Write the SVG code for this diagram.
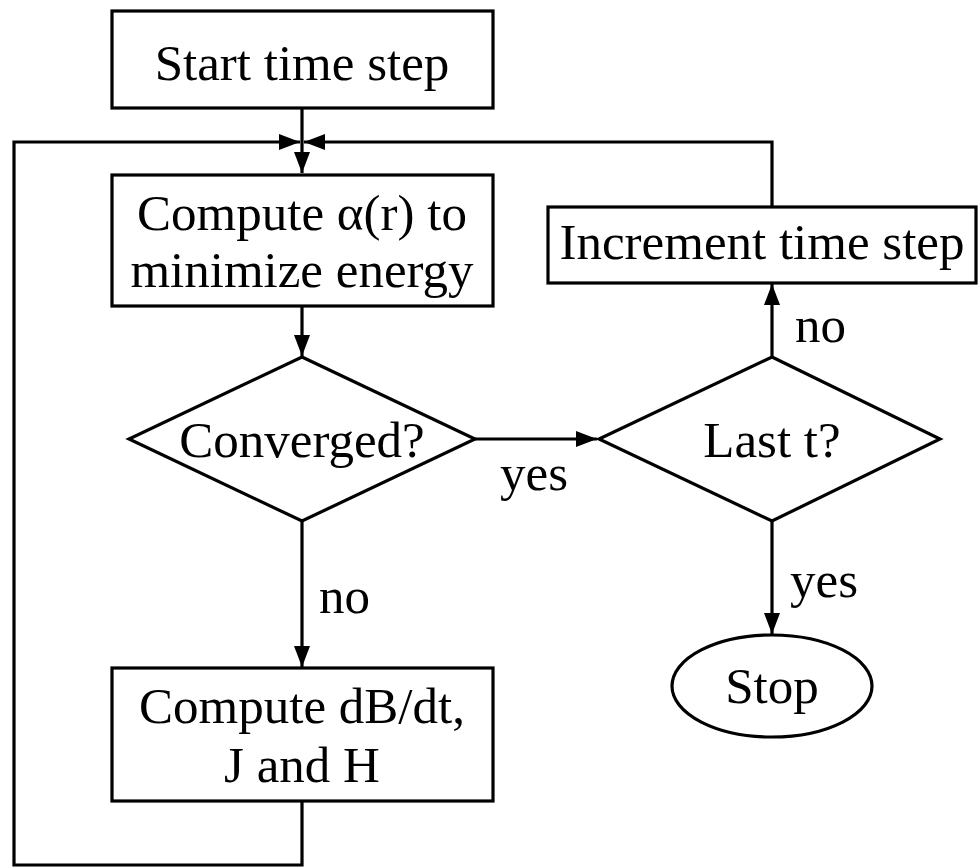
<svg xmlns="http://www.w3.org/2000/svg" width="979" height="867" viewBox="0 0 979 867">
  <style>
    .shape { fill: #fff; stroke: #000; stroke-width: 3.2; }
    .wire { fill: none; stroke: #000; stroke-width: 3.2; }
    text { font-family: "Liberation Serif", "Times New Roman", serif; font-size: 51px; fill: #000; }
    .mid { text-anchor: middle; }
  </style>
  <defs>
    <marker id="arrow" viewBox="0 0 21 16" refX="21" refY="8" markerWidth="21" markerHeight="16" markerUnits="userSpaceOnUse" orient="auto">
      <path d="M0,0 L21,8 L0,16 Z" fill="#000"/>
    </marker>
  </defs>

  <rect width="979" height="867" fill="#fff"/>

  <g id="connectors">
    <!-- start to loop junction -->
    <line class="wire" x1="302" y1="108" x2="302" y2="173" marker-end="url(#arrow)"/>
    <!-- loop back from bottom box -->
    <polyline class="wire" points="302,801 302,865 14,865 14,142 300,142" marker-end="url(#arrow)"/>
    <!-- return from increment -->
    <polyline class="wire" points="772,207 772,142 304,142" marker-end="url(#arrow)"/>
    <!-- compute alpha to converged -->
    <line class="wire" x1="302" y1="306" x2="302" y2="356" marker-end="url(#arrow)"/>
    <!-- converged yes -->
    <line class="wire" x1="475" y1="439" x2="597" y2="439" marker-end="url(#arrow)"/>
    <!-- converged no -->
    <line class="wire" x1="302" y1="521" x2="302" y2="667" marker-end="url(#arrow)"/>
    <!-- last t no -->
    <line class="wire" x1="772" y1="357" x2="772" y2="284" marker-end="url(#arrow)"/>
    <!-- last t yes -->
    <line class="wire" x1="772" y1="521" x2="772" y2="634" marker-end="url(#arrow)"/>
    <text x="319" y="613">no</text>
    <text x="500" y="490">yes</text>
    <text x="795" y="342">no</text>
    <text x="790" y="597">yes</text>
  </g>

  <g id="start">
    <rect class="shape" x="112" y="11" width="381" height="97"/>
    <text class="mid" x="302" y="80">Start time step</text>
  </g>

  <g id="compute-alpha">
    <rect class="shape" x="112" y="175" width="381" height="131"/>
    <text class="mid" x="302" y="230">Compute α(r) to</text>
    <text class="mid" x="302" y="287">minimize energy</text>
  </g>

  <g id="converged">
    <polygon class="shape" points="302,357 475,439 302,521 129,439"/>
    <text class="mid" x="302" y="457">Converged?</text>
  </g>

  <g id="compute-db">
    <rect class="shape" x="112" y="668" width="381" height="133"/>
    <text class="mid" x="302" y="723">Compute dB/dt,</text>
    <text class="mid" x="302" y="782">J and H</text>
  </g>

  <g id="increment">
    <rect class="shape" x="548" y="207" width="428" height="76"/>
    <text class="mid" x="762" y="259">Increment time step</text>
  </g>

  <g id="last-t">
    <polygon class="shape" points="772,357 940,439 772,521 599,439"/>
    <text class="mid" x="772" y="457">Last t?</text>
  </g>

  <g id="stop">
    <ellipse class="shape" cx="772" cy="686" rx="100" ry="51"/>
    <text class="mid" x="772" y="703">Stop</text>
  </g>
</svg>
